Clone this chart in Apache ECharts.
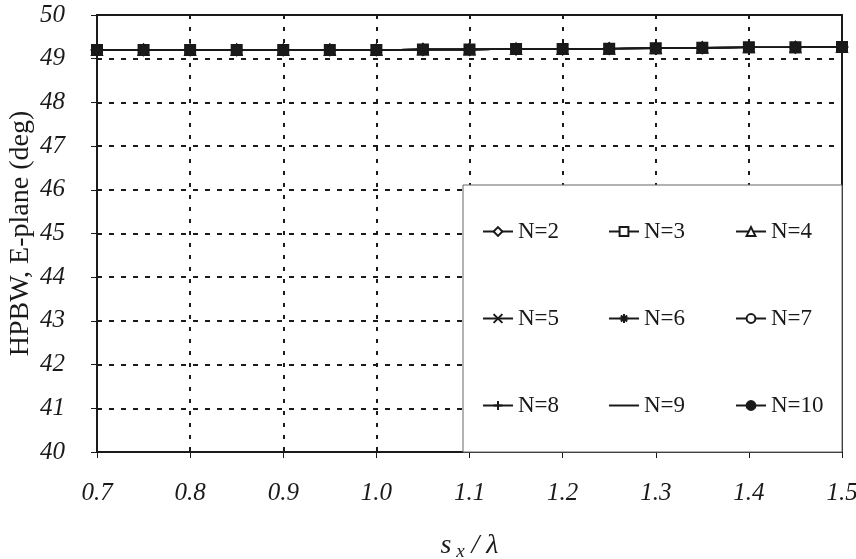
<!DOCTYPE html>
<html><head><meta charset="utf-8">
<script src="https://cdn.jsdelivr.net/npm/echarts@6/dist/echarts.min.js"></script>
<style>html,body{margin:0;padding:0;background:#fff}#c{width:856px;height:559px}</style>
</head><body><div id="c"></div>
<script>
const xValues = [0.70,0.75,0.80,0.85,0.90,0.95,1.00,1.05,1.10,1.15,1.20,1.25,1.30,1.35,1.40,1.45,1.50];
const seriesNames = ['N=2','N=3','N=4','N=5','N=6','N=7','N=8','N=9','N=10'];
const hpbwN2  = [49.20,49.20,49.20,49.20,49.20,49.20,49.20,49.21,49.21,49.22,49.22,49.23,49.24,49.25,49.26,49.26,49.27];
const hpbwN3  = [49.20,49.20,49.20,49.20,49.20,49.20,49.20,49.21,49.21,49.22,49.22,49.23,49.24,49.25,49.26,49.26,49.27];
const hpbwN4  = [49.20,49.20,49.20,49.20,49.20,49.20,49.20,49.21,49.21,49.22,49.22,49.23,49.24,49.25,49.26,49.26,49.27];
const hpbwN5  = [49.20,49.20,49.20,49.20,49.20,49.20,49.20,49.21,49.21,49.22,49.22,49.23,49.24,49.25,49.26,49.26,49.27];
const hpbwN6  = [49.20,49.20,49.20,49.20,49.20,49.20,49.20,49.21,49.21,49.22,49.22,49.23,49.24,49.25,49.26,49.26,49.27];
const hpbwN7  = [49.20,49.20,49.20,49.20,49.20,49.20,49.20,49.21,49.21,49.22,49.22,49.23,49.24,49.25,49.26,49.26,49.27];
const hpbwN8  = [49.20,49.20,49.20,49.20,49.20,49.20,49.20,49.21,49.21,49.22,49.22,49.23,49.24,49.25,49.26,49.26,49.27];
const hpbwN9  = [49.20,49.20,49.20,49.20,49.20,49.20,49.20,49.21,49.21,49.22,49.22,49.23,49.24,49.25,49.26,49.26,49.27];
const hpbwN10 = [49.20,49.20,49.20,49.20,49.20,49.20,49.20,49.21,49.21,49.22,49.22,49.23,49.24,49.25,49.26,49.26,49.27];
const allValues = [hpbwN2,hpbwN3,hpbwN4,hpbwN5,hpbwN6,hpbwN7,hpbwN8,hpbwN9,hpbwN10];
const legendColumns = [['N=2','N=5','N=8'],['N=3','N=6','N=9'],['N=4','N=7','N=10']];

const INK = '#1a1a1a';
const symbols = [
  'emptyDiamond','emptyRect','emptyTriangle',
  'path://M0,0L10,10M10,0L0,10',
  'path://M0,5L10,5M5,0L5,10M1.5,1.5L8.5,8.5M8.5,1.5L1.5,8.5',
  'emptyCircle',
  'path://M0,5L10,5M5,0L5,10',
  'none','circle'
];
const symSizes = [11,10,10,10,10,9,11,0,8];
const serif = 'Liberation Serif';

const series = seriesNames.map((n,i)=>({
  name:n, type:'line',
  data: xValues.map((x,j)=>[x, allValues[i][j]]),
  symbol: symbols[i], symbolSize: symSizes[i], showSymbol: symbols[i]!=='none',
  lineStyle:{color:INK,width:1.4},
  itemStyle:{color:INK, borderColor:INK, borderWidth:1.8},
  emphasis:{disabled:true}, animation:false
}));

const legends = legendColumns.map((col,k)=>({
  orient:'vertical', left:[482,608,735][k], top:220, padding:0,
  data: col.map(n=> n==='N=9' ? {name:n, itemStyle:{opacity:0}} : {name:n}),
  itemWidth:30, itemHeight:11, itemGap:64,
  textStyle:{fontFamily:serif,fontSize:23,color:INK,padding:[0,0,0,0]},
  selectedMode:false, z:6
}));

const chart = echarts.init(document.getElementById('c'),null,{renderer:'canvas'});
chart.setOption({
  backgroundColor:'#fff',
  animation:false,
  grid:{left:97,top:15,width:745,height:437,show:true,borderColor:INK,borderWidth:2,backgroundColor:'transparent',containLabel:false,outerBoundsMode:'none'},
  xAxis:{
    type:'value', min:0.7, max:1.5, interval:0.1,
    axisLine:{show:true,lineStyle:{color:INK,width:2}},
    axisTick:{show:true,length:6,lineStyle:{color:INK,width:1}},
    axisLabel:{margin:29,fontFamily:serif,fontStyle:'italic',fontSize:25,color:INK,formatter:v=>v.toFixed(1)},
    splitLine:{show:true,lineStyle:{color:INK,width:2,type:[4,8]}},
    name:'{s|s}{x| x}{s| / λ}', nameLocation:'middle', nameGap:78, nameMoveOverlap:false,
    nameTextStyle:{rich:{s:{fontFamily:serif,fontStyle:'italic',fontSize:28,color:INK},x:{fontFamily:serif,fontStyle:'italic',fontSize:19,color:INK,verticalAlign:'bottom',padding:[12,0,0,0]}}}
  },
  yAxis:{
    type:'value', min:40, max:50, interval:1,
    axisLine:{show:true,lineStyle:{color:INK,width:2}},
    axisTick:{show:true,length:6,lineStyle:{color:INK,width:1}},
    axisLabel:{margin:32,fontFamily:serif,fontStyle:'italic',fontSize:25,color:INK},
    splitLine:{show:true,lineStyle:{color:INK,width:2,type:[5,7]}},
    name:'HPBW, E-plane (deg)', nameLocation:'middle', nameGap:62, nameMoveOverlap:false,
    nameTextStyle:{fontFamily:serif,fontSize:28,color:INK}
  },
  legend: legends,
  graphic:[{type:'rect',shape:{x:463,y:185,width:379,height:267},style:{fill:'#fff',stroke:'#666',lineWidth:1},z:5}],
  series: series
});
</script></body></html>
